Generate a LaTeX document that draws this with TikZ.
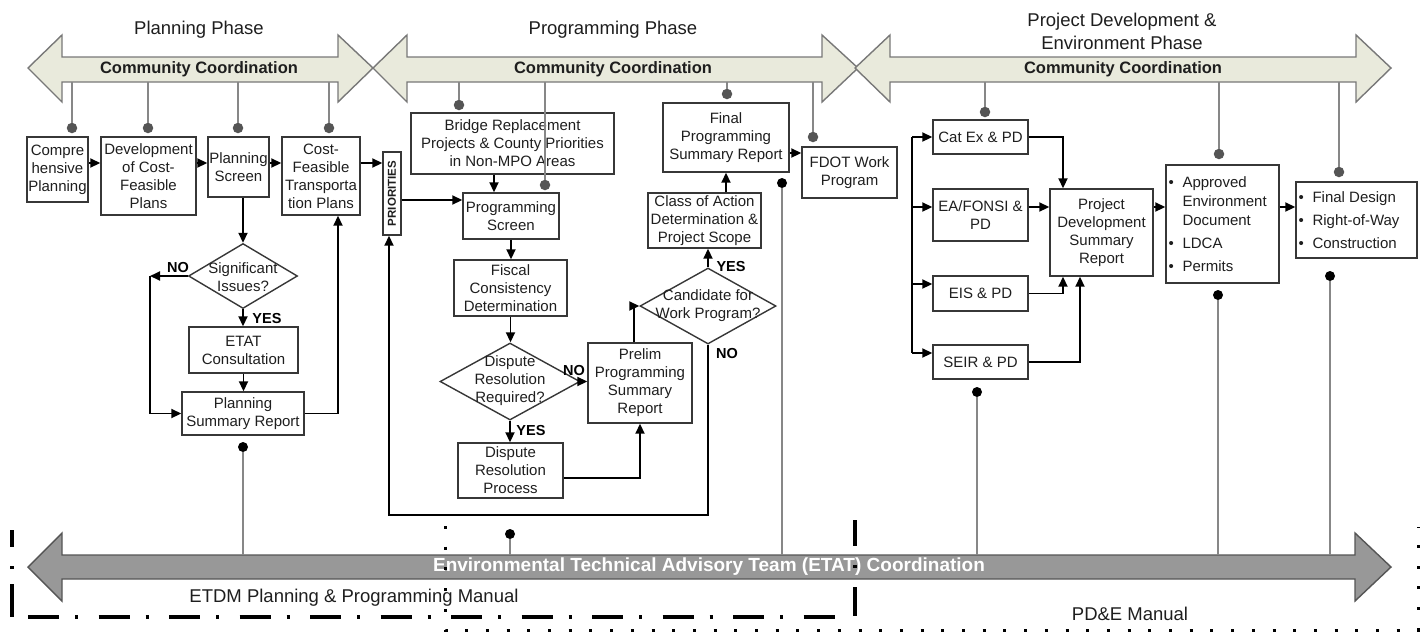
\documentclass[tikz,border=0pt]{standalone}
\usepackage{fontspec}
\setmainfont{Liberation Sans}
\usepackage{graphicx}
\usetikzlibrary{arrows.meta,shapes.geometric}

\definecolor{ccfill}{RGB}{233,234,220}
\definecolor{ccedge}{RGB}{120,120,120}
\definecolor{pinline}{RGB}{135,135,135}
\definecolor{pindot}{RGB}{85,85,85}
\definecolor{boxedge}{RGB}{55,55,55}
\definecolor{txt}{RGB}{30,30,30}
\definecolor{etatfill}{RGB}{152,152,152}
\definecolor{etatedge}{RGB}{85,85,85}

% bullet column used in the two list boxes
\newcommand\bulmark{\makebox[14pt][l]{\fontsize{15}{15}\selectfont\textbullet}}
% double-headed "Community Coordination" band: left tip, left head base, right head base, right tip
\newcommand\ccband[4]{\draw[cc] (#1,68) -- (#2,35) -- (#2,57) -- (#3,57) -- (#3,35) -- (#4,68) -- (#3,102) -- (#3,82) -- (#2,82) -- (#2,102) -- cycle;}

\begin{document}
\begin{tikzpicture}[x=1pt,y=-1pt,
  box/.style={draw=boxedge, line width=1.4pt, inner sep=0pt, align=center,
    text=txt, font=\fontsize{15}{18}\selectfont},
  dmd/.style={draw=boxedge, line width=1.4pt, diamond, inner sep=0pt},
  dtext/.style={align=center, text=txt, font=\fontsize{15}{18}\selectfont, inner sep=0pt},
  conn/.style={draw=black, line width=1.8pt, -{Triangle[length=10pt,width=9pt]}},
  plain/.style={draw=black, line width=1.8pt},
  yesno/.style={font=\bfseries\fontsize{14.5}{17}\selectfont, text=black, inner sep=0pt},
  cc/.style={fill=ccfill, draw=ccedge, line width=1.4pt, line join=miter},
  cctext/.style={font=\bfseries\fontsize{16.5}{19}\selectfont, text=txt, inner sep=0pt},
  phase/.style={font=\fontsize{18.5}{23}\selectfont, align=center, text=txt, inner sep=0pt},
  tpin/.style={draw=pinline, line width=1.8pt},
  tdot/.style={circle, fill=pindot, minimum size=10.5pt, inner sep=0pt},
  bdot/.style={circle, fill=black, minimum size=10pt, inner sep=0pt},
  bpin/.style={draw=pinline, line width=1.5pt},
  bullets/.style={align=left, text=txt, font=\fontsize{15}{19}\selectfont, inner sep=0pt, anchor=west},
  manual/.style={font=\fontsize{18.5}{22}\selectfont, text=txt, inner sep=0pt},
]
\useasboundingbox (0,0) rectangle (1424,633);

% ---------- phase titles and community coordination bands ----------
\node[phase] (ph1) at (199,30) {Planning Phase};
\node[phase] (ph2) at (613,30) {Programming Phase};
\node[phase] (ph3) at (1122,31) {Project Development \&\\Environment Phase};

\ccband{373}{407}{822}{858}
\ccband{28}{62}{338}{373}
\ccband{855}{890}{1356}{1391}
\node[cctext] (cc1) at (199,69) {Community Coordination};
\node[cctext] (cc2) at (613,69) {Community Coordination};
\node[cctext] (cc3) at (1123,69) {Community Coordination};
\coordinate (ccB) at (0,82);

% ---------- ETAT coordination band ----------
\draw[fill=etatfill, draw=etatedge, line width=1.4pt]
  (28,567) -- (62,533) -- (62,555) -- (1355,555) -- (1355,533) -- (1391,567)
  -- (1355,601) -- (1355,579) -- (62,579) -- (62,601) -- cycle;
\node[font=\bfseries\fontsize{19}{20}\selectfont, text=white, inner sep=0pt] (etatlbl) at (709,567)
  {Environmental Technical Advisory Team (ETAT) Coordination};
\coordinate (etB) at (0,555);

% ---------- planning phase ----------
\node[box, minimum width=61, minimum height=65] (comp) at (57.5,169.5) {Compre\\hensive\\Planning};
\node[box, minimum width=95, minimum height=78] (dev) at (148.5,176) {Development\\of Cost-\\Feasible\\Plans};
\node[box, minimum width=61, minimum height=60] (pscr) at (238.5,167) {Planning\\Screen};
\node[box, minimum width=78, minimum height=78] (cftp) at (321,176) {Cost-\\Feasible\\Transporta\\tion Plans};
\node[box, minimum width=18, minimum height=83, font=\bfseries\fontsize{11.5}{12}\selectfont] (prio) at (392,193.5) {\rotatebox{90}{PRIORITIES}};

\node[dmd, minimum width=109, minimum height=65] (sig) at (243,276) {};
\node[dtext] (sigt) at (243,277) {Significant\\Issues?};
\node[box, minimum width=109, minimum height=46] (etat) at (243.5,350) {ETAT\\Consultation};
\node[box, minimum width=122, minimum height=43] (psr) at (243,413.5) {Planning\\Summary Report};
\node[yesno] (signo) at (178,267) {NO};
\node[yesno] (sigyes) at (267,318) {YES};

\coordinate (hA) at (0,163);
\draw[conn] (comp.east |- hA) -- (dev.west |- hA);
\draw[conn] (dev.east |- hA) -- (pscr.west |- hA);
\draw[conn] (pscr.east |- hA) -- (cftp.west |- hA);
\draw[conn] (cftp.east |- hA) -- (prio.west |- hA);
\coordinate (vS) at (243,0);
\draw[conn] (vS |- pscr.south) -- (sig.north);
\coordinate (vN) at (150,0);
\draw[conn] (sig.west) -- (vN |- sig.west);
\draw[conn] (vN |- sig.west) -- (vN |- psr.west) -- (psr.west);
\draw[conn] (sig.south) -- (sig.south |- etat.north);
\draw[conn] (etat.south) -- (etat.south |- psr.north);
\coordinate (vR) at (338,0);
\draw[conn] (psr.east) -| (vR |- cftp.south);

% ---------- programming phase ----------
\node[box, minimum width=203, minimum height=61] (bridge) at (512.5,143.5) {Bridge Replacement\\Projects \& County Priorities\\in Non-MPO Areas};
\node[box, minimum width=96, minimum height=46] (progscr) at (511,216) {Programming\\Screen};
\node[box, minimum width=113, minimum height=56] (fiscal) at (510.5,288) {Fiscal\\Consistency\\Determination};
\node[dmd, minimum width=140, minimum height=77] (disp) at (510,381.5) {};
\node[dtext] (dispt) at (510,381) {Dispute\\Resolution\\Required?};
\node[box, minimum width=105, minimum height=55] (drp) at (510.5,470.5) {Dispute\\Resolution\\Process};
\node[box, minimum width=104, minimum height=80] (prelim) at (640,383) {Prelim\\Programming\\Summary\\Report};
\node[dmd, minimum width=136, minimum height=76] (cand) at (708,306) {};
\node[dtext] (candt) at (708,306) {Candidate for\\Work Program?};
\node[box, minimum width=113, minimum height=55] (coa) at (704.5,220.5) {Class of Action\\Determination \&\\Project Scope};
\node[box, minimum width=126, minimum height=69] (fpsr) at (726,137.5) {Final\\Programming\\Summary Report};
\node[box, minimum width=95, minimum height=51] (fdot) at (849.5,172.5) {FDOT Work\\Program};
\node[yesno] (dispno) at (574,370) {NO};
\node[yesno] (dispyes) at (531,430) {YES};
\node[yesno] (candyes) at (731,266) {YES};
\node[yesno] (candno) at (727,353) {NO};

\coordinate (hB) at (0,200);
\draw[conn] (prio.east |- hB) -- (progscr.west |- hB);
\coordinate (vB) at (494,0);
\draw[conn] (vB |- bridge.south) -- (vB |- progscr.north);
\draw[conn] (progscr.south) -- (progscr.south |- fiscal.north);
\draw[conn] (fiscal.south) -- (fiscal.south |- disp.north);
\draw[conn] (disp.south) -- (disp.south |- drp.north);
\draw[conn] (disp.east) -- (prelim.west |- disp.east);
\coordinate (hC) at (0,478);
\draw[conn] (drp.east |- hC) -| (prelim.south);
\draw[conn] ([xshift=-6pt]prelim.north) |- (cand.west);
\draw[conn] (cand.north) -- (cand.north |- coa.south);
\draw[conn] (fpsr.south |- coa.north) -- (fpsr.south);
\coordinate (hD) at (0,153);
\draw[conn] (fpsr.east |- hD) -- (fdot.west |- hD);
\coordinate (hE) at (0,515);
\coordinate (vE) at (389,0);
\draw[conn] (cand.south) -- (cand.south |- hE) -- (vE |- hE) -- (vE |- prio.south);

% ---------- project development & environment phase ----------
\node[box, minimum width=95, minimum height=34] (catex) at (980.5,137) {Cat Ex \& PD};
\node[box, minimum width=95, minimum height=52] (eafonsi) at (980.5,215) {EA/FONSI \&\\PD};
\node[box, minimum width=95, minimum height=35] (eis) at (980.5,293.5) {EIS \& PD};
\node[box, minimum width=95, minimum height=34] (seir) at (980.5,362) {SEIR \& PD};
\node[box, minimum width=103, minimum height=87] (pdsr) at (1101.5,232.5) {Project\\Development\\Summary\\Report};
\node[box, minimum width=113, minimum height=118] (appr) at (1222.5,224) {};
\node[bullets] (apprt) at ([xshift=3pt]appr.west)
  {\bulmark Approved\\\hspace*{14pt}Environment\\\hspace*{14pt}Document\\[4pt]\bulmark LDCA\\[4pt]\bulmark Permits};
\node[box, minimum width=121, minimum height=76] (fdes) at (1356.5,220) {};
\node[bullets] (fdest) at ([xshift=3pt]fdes.west)
  {\bulmark Final Design\\[4pt]\bulmark Right-of-Way\\[4pt]\bulmark Construction};

\coordinate (vT) at (912,0);
\coordinate (hEA) at (0,207);
\coordinate (hEIS) at (0,284);
\coordinate (hSE) at (0,353);
\draw[plain] (vT |- catex.west) -- (vT |- hSE);
\draw[conn] (vT |- catex.west) -- (catex.west);
\draw[conn] (vT |- hEA) -- (eafonsi.west |- hEA);
\draw[conn] (vT |- hEIS) -- (eis.west |- hEIS);
\draw[conn] (vT |- hSE) -- (seir.west |- hSE);
\coordinate (vP1) at (1063,0);
\coordinate (vP2) at (1080,0);
\draw[conn] (catex.east) -| (vP1 |- pdsr.north);
\draw[conn] (eafonsi.east |- hEA) -- (pdsr.west |- hEA);
\draw[conn] (eis.east) -| (vP1 |- pdsr.south);
\draw[conn] (seir.east) -| (vP2 |- pdsr.south);
\draw[conn] (pdsr.east |- hEA) -- (appr.west |- hEA);
\draw[conn] (appr.east |- hEA) -- (fdes.west |- hEA);

% ---------- pins to the community coordination bands ----------
\foreach \i/\x/\y in {1/72/128, 2/148/128, 3/238/128, 4/329/128, 5/459/105, 6/545/185,
                      7/727/94, 8/813/137, 9/985/112, 10/1219/154, 11/1339/172} {
  \node[tdot] (tp\i) at (\x,\y) {};
  \draw[tpin] (tp\i) -- (tp\i |- ccB);
}

% ---------- pins to the ETAT band ----------
\foreach \i/\x/\y in {1/243/447, 2/510/534, 3/782/183, 4/977/392, 5/1218/295, 6/1330/276} {
  \node[bdot] (bp\i) at (\x,\y) {};
  \draw[bpin] (bp\i) -- (bp\i |- etB);
}

% ---------- manual boundaries ----------
\draw[line width=3.2pt, dash pattern=on 17pt off 19pt on 3pt off 15pt on 60pt] (12,530) -- (12,617);
\draw[line width=3.2pt, dash pattern=on 31pt off 16pt on 3pt off 20.5pt] (28,617) -- (835,617);
\draw[line width=3.2pt, dash pattern=on 26pt off 19pt on 3pt off 19pt on 60pt] (855,520) -- (855,616);
\draw[line width=3pt, dash pattern=on 3pt off 17.7pt] (445,526) -- (445,630) -- (1418,630) -- (1418,527);
\node[manual] (etdm) at (354,598) {ETDM Planning \& Programming Manual};
\node[manual] (pdem) at (1130,614) {PD\&E Manual};
\end{tikzpicture}
\end{document}
